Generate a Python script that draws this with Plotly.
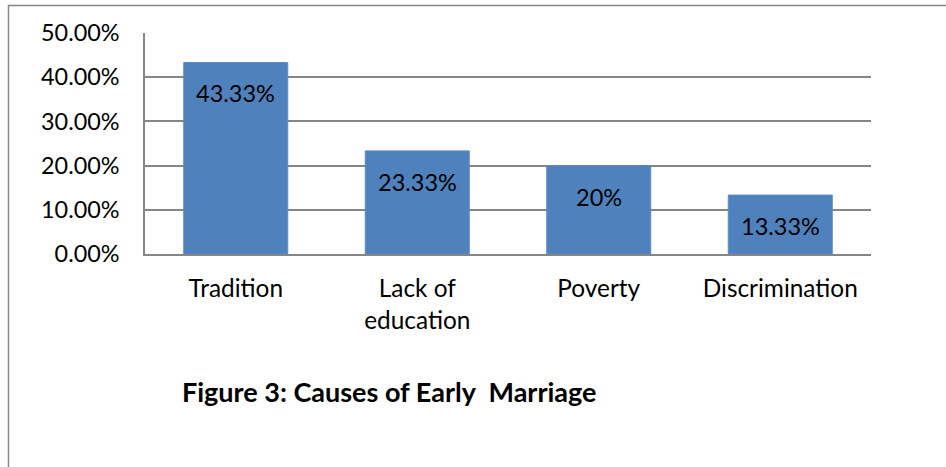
import plotly.graph_objects as go

# Causes of early marriage (share of respondents)
causes = ["Tradition", "Lack of<br>education", "Poverty", "Discrimination"]
shares = [43.33, 23.33, 20.0, 13.33]
share_labels = ["43.33%", "23.33%", "20%", "13.33%"]
y_ticks = [0, 10, 20, 30, 40, 50]
y_tick_labels = ["0.00%", "10.00%", "20.00%", "30.00%", "40.00%", "50.00%"]

W, H = 946, 467
L, R, T, B = 145, 75, 33, 213
pw, ph = W - L - R, H - T - B

def px_x(p):
    return (p - L) / pw

def px_y(p):
    return (H - B - p) / ph

FONT = "Lato"

fig = go.Figure(
    go.Bar(
        x=causes,
        y=shares,
        width=0.573,
        marker=dict(color="#4F81BD", line=dict(color="#5B8BC6", width=1)),
        hoverinfo="skip",
    )
)

# value labels inside the top of each bar
for c, v, lab in zip(causes, shares, share_labels):
    fig.add_annotation(
        x=c, y=v, text=lab, showarrow=False,
        yanchor="middle", yshift=-31,
        font=dict(family=FONT, size=23.5, color="#000000"),
    )

# caption beneath the chart
fig.add_annotation(
    xref="paper", yref="paper", x=px_x(389), y=px_y(391),
    text="<b>Figure 3: Causes of Early&nbsp;&nbsp;Marriage</b>",
    showarrow=False, xanchor="center", yanchor="middle",
    font=dict(family=FONT, size=27, color="#000000"),
)

# outer frame
fig.add_shape(
    type="rect", xref="paper", yref="paper",
    x0=px_x(8.5), x1=px_x(960), y0=px_y(480), y1=px_y(5.5),
    line=dict(color="#868686", width=1.5), layer="below",
)

fig.update_layout(
    width=W, height=H,
    margin=dict(l=L, r=R, t=T, b=B),
    paper_bgcolor="white", plot_bgcolor="white",
    showlegend=False,
    font=dict(family=FONT, color="#000000"),
    bargap=0.427,
)
fig.update_xaxes(
    showgrid=False, showline=True, linecolor="#868686", linewidth=1.5,
    ticks="", tickfont=dict(family=FONT, size=24.4), ticklabelstandoff=12,
    fixedrange=True,
)
fig.update_yaxes(
    range=[0, 50], tickvals=y_ticks, ticktext=y_tick_labels,
    showgrid=True, gridcolor="#868686", gridwidth=1.5,
    showline=True, linecolor="#868686", linewidth=1.5,
    zeroline=False, ticks="", tickfont=dict(family=FONT, size=23.4),
    ticklabelstandoff=19, fixedrange=True,
)

fig.write_html("out.html", config=dict(displayModeBar=False))
